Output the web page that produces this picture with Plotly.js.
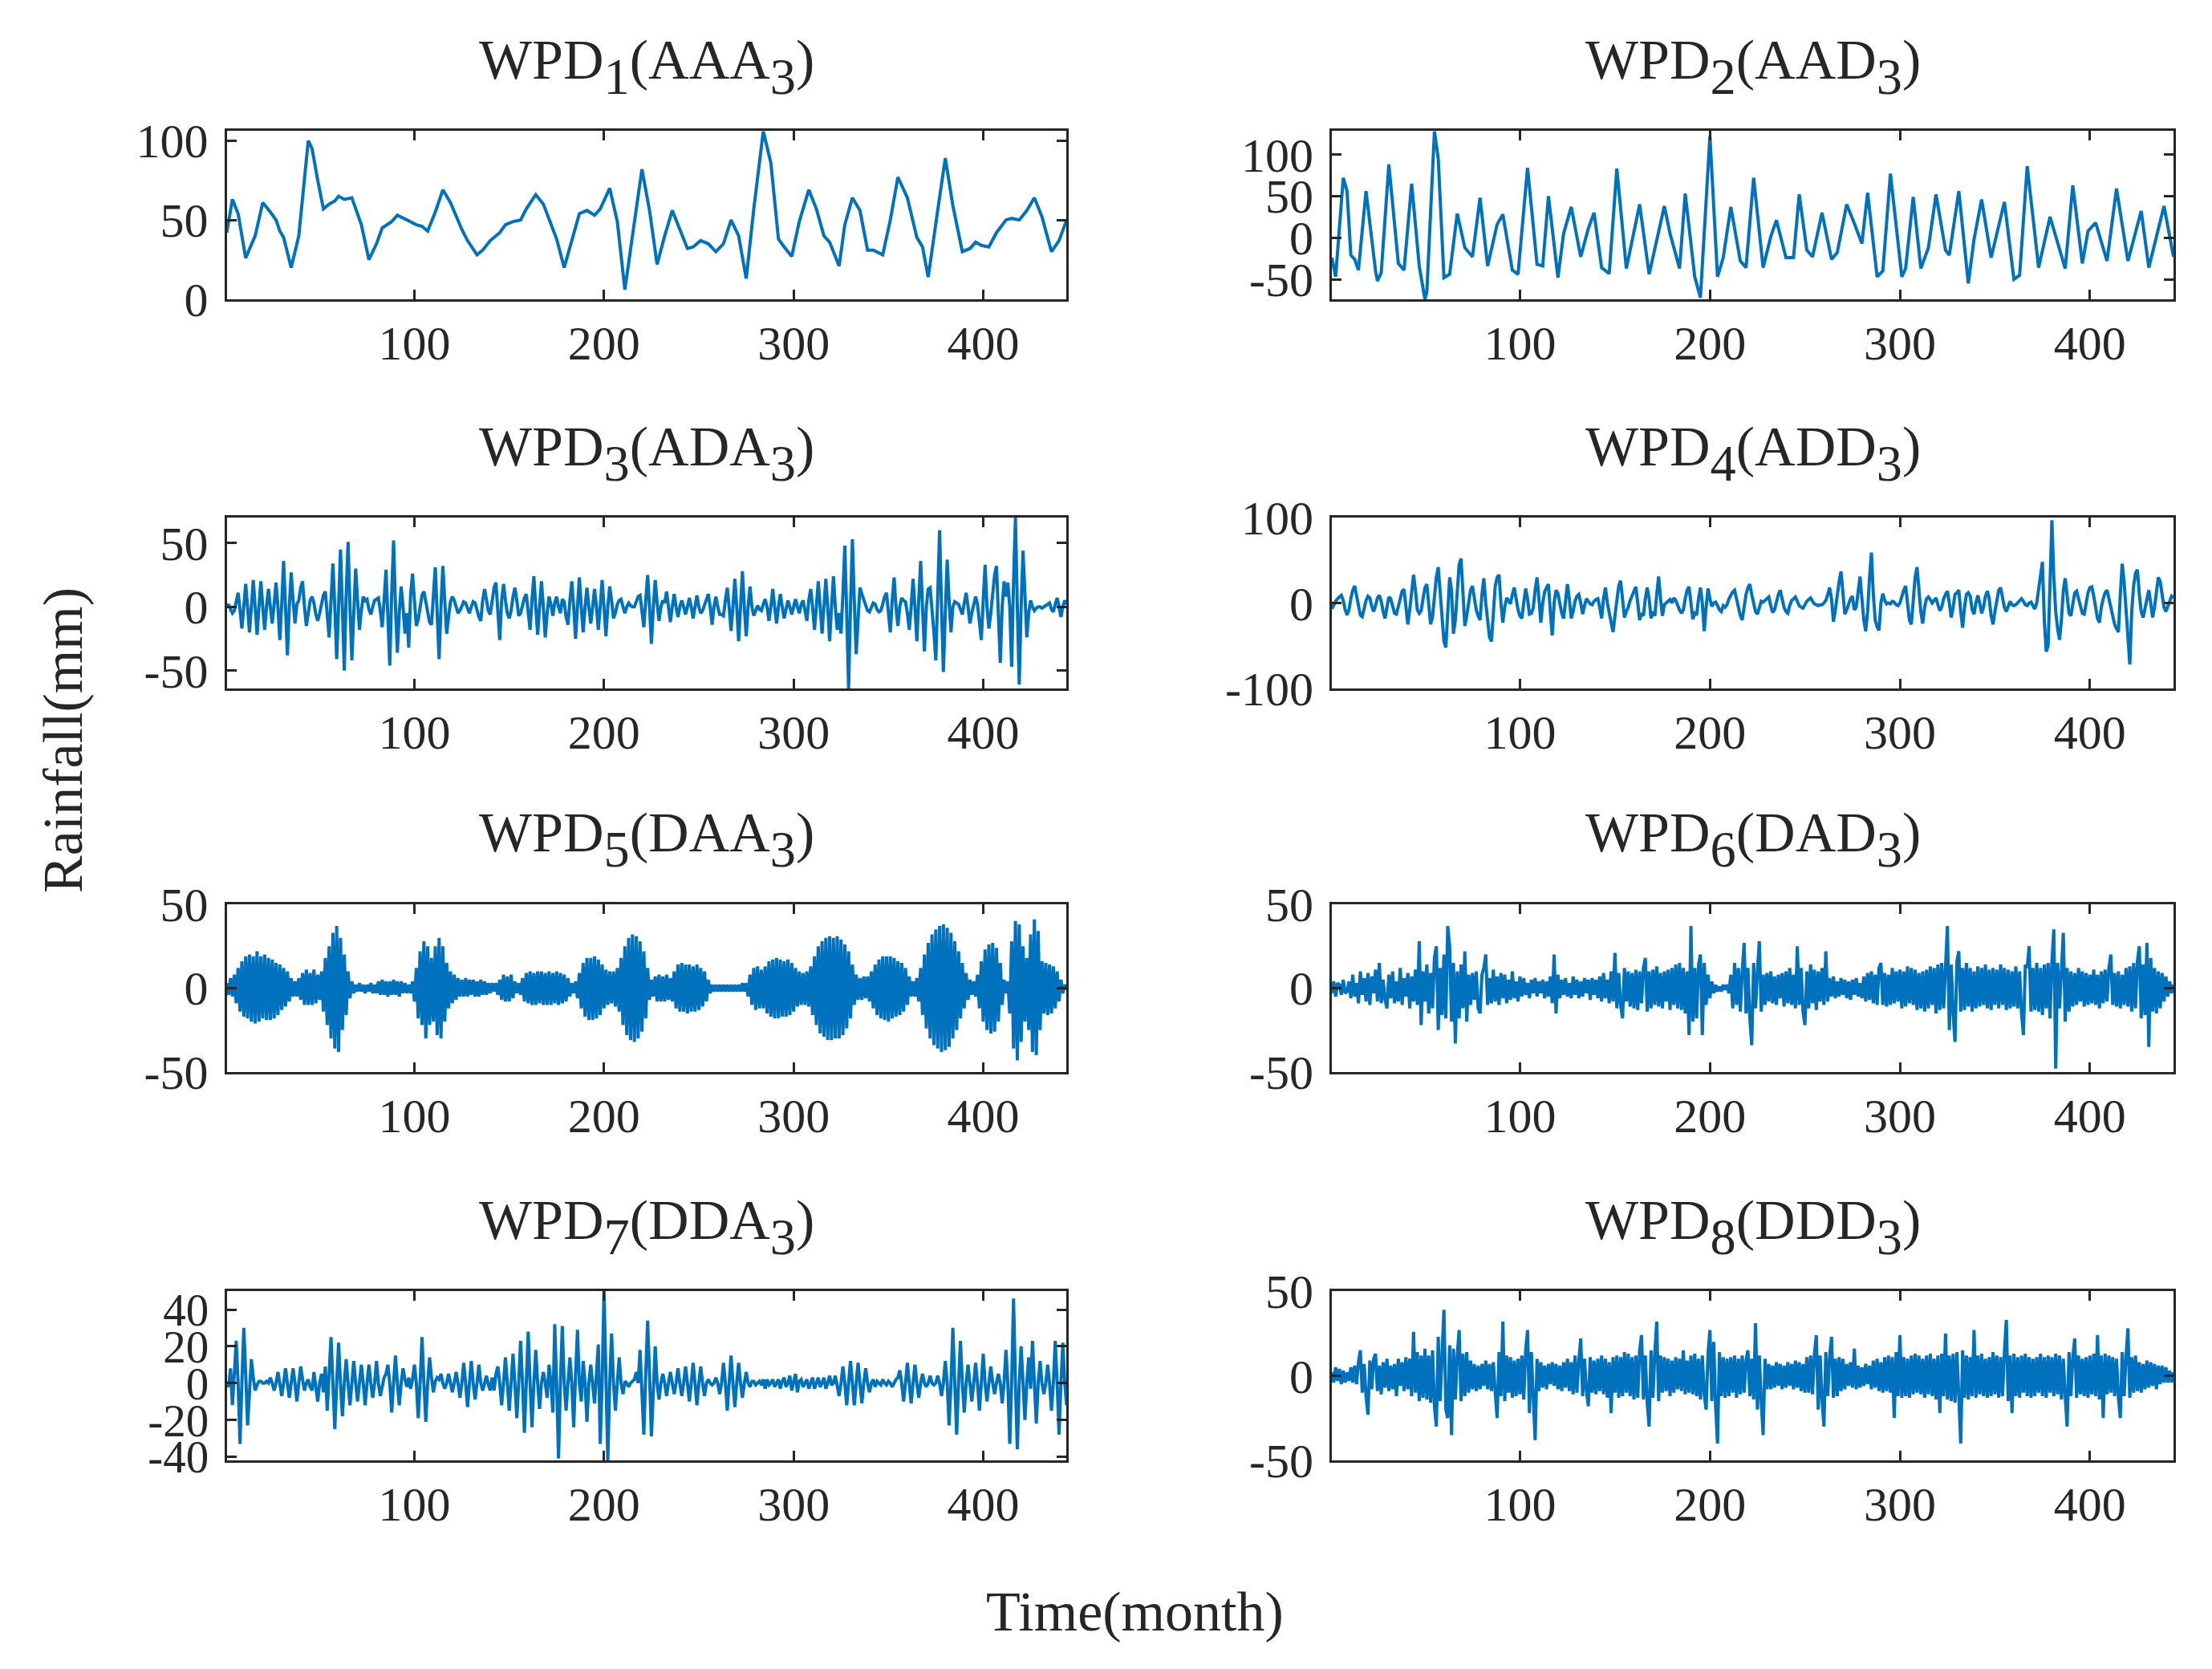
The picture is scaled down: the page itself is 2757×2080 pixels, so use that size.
<!DOCTYPE html>
<html><head><meta charset="utf-8">
<script src="https://cdn.plot.ly/plotly-3.0.1.min.js"></script>
<style>html,body{margin:0;padding:0;background:#fff;} #chart{width:2757px;height:2080px;}</style>
</head><body><div id="chart"></div>
<script>
// ---------------- data ----------------
const panelNames = ['WPD','WPD','WPD','WPD','WPD','WPD','WPD','WPD'];
const panelIndex = ['1','2','3','4','5','6','7','8'];
const panelCodes = ['AAA','AAD','ADA','ADD','DAA','DAD','DDA','DDD'];
const xTicks = [100,200,300,400];
const yTickVals = [[0,50,100],[-50,0,50,100],[-50,0,50],[-100,0,100],[-50,0,50],[-50,0,50],[-40,-20,0,20,40],[-50,0,50]];
const yTickText = [['0','50','100'],['-50','0','50','100'],['-50','0','50'],['-100','0','100'],['-50','0','50'],['-50','0','50'],['-40','-20','0','20','40'],['-50','0','50']];
const yLimits = [[0,106],[-74,128],[-64,70],[-100,100],[-50,50],[-50,50],[-42,50],[-50,50]];
const monthCount = 444;

const wpd1Month = [1,4,7,11,16,20,24,27,29,31,35,39,44,46,49,52,55,58,60,63,67,69,72,76,80,83,88,91,96,101,104,107,111,115,119,125,128,133,136,140,145,148,152,156,159,164,168,171,175,179,183,187,191,195,198,200,203,207,211,215,220,224,228,232,236,240,244,247,251,255,259,263,267,271,275,279,284,288,292,295,299,303,308,312,316,319,324,327,331,335,339,342,347,351,355,360,365,368,371,376,380,384,389,393,396,399,403,407,412,415,419,423,427,431,436,440,444];
const wpd1Value = [42,63,54,26,40,61,55,50,43,39,20,40,100,95,75,57,60,62,65,63,64,57,47,25,35,45,49,53,50,47,46,43,55,69,61,44,37,28,31,37,42,47,49,50,57,66,60,50,38,20,37,54,56,53,57,62,70,49,6,40,82,56,22,40,56,44,32,33,37,35,30,35,50,40,13,57,106,86,38,33,27,49,69,57,40,36,21,47,64,56,31,31,28,50,77,64,39,33,14,56,89,59,30,32,36,34,33,42,50,51,50,56,64,52,30,37,50];

const wpd2Month = [1,3,7,9,11,13,15,19,24,25,27,31,36,39,43,47,50,51,55,57,60,63,67,71,75,79,83,88,91,96,99,104,109,112,115,120,123,127,132,136,139,143,147,151,156,163,168,176,179,184,187,192,195,200,204,207,211,216,219,223,228,232,235,240,244,247,251,254,259,264,267,272,276,280,283,288,291,295,301,303,307,311,315,319,324,326,331,336,339,343,348,355,360,363,367,373,379,387,391,396,399,403,409,414,420,427,431,439,444];
const wpd2Value = [-24,-47,72,56,-21,-26,-39,56,-40,-52,-42,88,-31,-39,65,-34,-74,-65,128,95,-48,-44,29,-12,-23,48,-34,16,28,-39,-44,84,-32,-34,50,-48,5,37,-23,11,30,-36,-43,83,-37,40,-44,38,5,-37,53,-47,-72,122,-47,-24,37,-28,-36,72,-36,1,21,-24,-24,52,-15,-23,30,-26,-18,40,17,-7,54,-47,-40,77,-47,-37,49,-37,-12,52,-15,-21,56,-55,-2,46,-24,43,-50,-45,86,-36,25,-37,63,-31,8,18,-28,59,-28,32,-36,38,-23];

const wpd3 = [0,2,-2,-5,-3,4,11,-2,-17,0, 18,0,-20,0,21,0,-22,0,20,0, -18,0,14,0,-13,2,19,0,-26,2, 36,0,-38,0,27,5,-13,2,5,15,
 20,0,-15,-5,5,8,3,-6,-11,-5, 3,9,12,-5,-24,5,34,0,-41,0, 45,0,-50,10,51,0,-42,-5,30,5, -18,-3,8,5,6,-2,-6,0,5,6,
 7,-3,-16,5,29,-8,-46,10,52,0, -36,-5,16,0,-21,-5,-32,10,26,5, -15,-10,2,9,12,5,-5,-12,-14,10, 31,-5,-41,0,32,5,-21,-8,4,8,
 5,0,-5,-3,1,4,3,-2,-5,0, 4,3,-3,-8,-11,5,14,5,-3,-6, 5,15,19,-5,-26,5,18,5,-5,-9, -3,8,15,5,-7,-5,2,7,10,-5,
 -18,5,24,0,-22,0,20,0,-24,-5, 8,2,-7,3,8,0,-5,6,4,-8, -14,5,20,0,-25,0,23,0,-20,0, 15,0,-13,0,14,0,-18,0,21,0,
 -23,0,16,5,-9,-5,2,5,6,0, -5,0,3,1,0,0,5,8,9,-5, -16,5,25,0,-29,0,21,3,-11,0, 5,3,12,0,-12,0,10,0,-8,0,
 5,0,-6,0,7,0,-9,0,9,0, -5,-3,2,6,10,0,-14,0,8,0, -6,-6,-7,5,15,0,-19,0,22,0, -27,0,28,0,-23,0,16,0,-7,-3,
 1,-2,-3,2,6,0,-11,0,14,0, -13,0,10,0,-9,-2,5,0,-6,0, 6,0,-5,2,5,-3,-11,5,14,0, -18,0,20,0,-21,0,22,0,-27,0,
 24,0,-18,-5,-21,10,48,-5,-64,0, 53,5,-37,-10,15,10,5,0,-3,-4, 0,3,2,-2,-4,-3,2,8,11,-5, -20,5,23,0,-15,0,7,5,4,-5,
 -18,0,22,0,-27,5,36,0,-35,0, 14,15,0,-20,-42,10,60,0,-51,-5, 37,5,-20,0,4,3,2,-2,-6,3, 11,0,-13,-5,3,8,2,-15,-26,5,
 33,0,-17,-5,10,25,32,0,-44,0, 20,8,19,0,-47,20,70,0,-61,0, 44,10,-24,-5,5,0,-3,-1,0,0, -1,0,1,2,3,-2,-4,2,7,0,
 -8,0,5,2];

const wpd4 = [-7,-2,2,5,7,9,3,-8,-14,-8, 5,15,20,8,-5,-14,-16,-6,3,8, 6,-4,-10,-3,6,9,2,-10,-18,-5, 7,5,-5,-12,-13,-3,8,14,16,-5,
 -25,-8,15,33,15,-8,-12,-9,5,18, 22,0,-25,-16,8,30,42,10,-25,-45, -52,-5,30,15,-36,-20,20,45,52,15, -27,-15,3,15,20,5,-8,-15,-20,10,
 29,0,-25,-40,-45,-10,20,30,33,0, -23,-5,6,3,-1,10,18,5,-8,-15, -18,0,17,5,-13,-12,-6,15,30,5, -23,0,13,18,22,-10,-38,0,15,11,
 0,-12,-18,5,22,5,-18,-10,2,8, 10,0,-13,-3,5,2,-1,-2,2,4, 5,-5,-18,5,18,0,-12,-25,-34,-15, 5,20,26,5,-17,-10,-5,3,8,12,
 19,0,-20,-12,-15,5,18,5,-18,-10, -15,10,31,5,-15,-2,0,2,4,0, 6,3,-3,-8,-12,-8,5,15,19,0, -19,-12,-14,5,18,0,-33,-5,17,5,
 -4,0,1,-3,-8,-10,-3,-5,-2,5, 10,13,15,5,-5,-15,-20,-5,10,18, 22,10,0,-10,-13,-5,2,1,3,5, 7,-3,-11,-8,3,10,15,5,-5,-10,
 -12,-3,3,5,7,2,-3,-5,-6,-2, 2,4,6,2,-1,-2,-3,-2,-2,0, 3,10,18,5,-22,-8,10,25,37,10, -13,-8,0,5,8,-8,-5,15,31,5,
 -20,-33,-10,30,59,10,-20,-28,-32,0, 11,3,-1,0,-1,2,1,-2,-3,0, 8,15,20,-5,-20,-25,5,30,42,15, -10,-24,-5,5,7,4,0,3,6,-2,
 -9,-5,5,10,14,0,-17,-5,10,12, 15,-10,-29,-5,10,12,8,-8,-13,0, 9,0,-12,-5,8,14,5,-15,-25,-10, 5,15,18,5,-5,-10,-5,2,-2,-3,
 -2,0,3,5,2,-2,-3,0,1,-3, -7,0,15,30,48,-20,-57,-50,20,97, 30,-10,-30,-43,-20,15,29,5,-12,-15, 0,12,14,5,-5,-12,-13,0,12,18,
 19,8,-5,-18,-23,-5,5,12,15,5, -5,-18,-25,-30,-34,10,46,25,-10,-50, -72,-10,20,35,39,10,-10,-17,-5,8, 15,0,-17,-5,15,30,25,10,-5,-10,
 -5,2,8,6];

const wpd5 = [3,-4,6,-5,8,-9,12,-14,16,-17, 19,-18,20,-20,19,-21,22,-20,19,-18, 20,-19,18,-19,17,-18,15,-16,14,-13, 12,-11,10,-8,6,-5,4,-5,6,-7,
 9,-10,11,-10,9,-10,11,-9,8,-7, 10,-14,18,-22,25,-30,33,-36,37,-38, 30,-25,20,-16,10,-6,4,-3,2,-2, 3,-2,2,-3,2,-2,3,-3,2,-3,
 4,-4,5,-4,4,-5,4,-4,5,-4, 4,-5,4,-3,3,-3,2,-3,4,-8, 12,-18,22,-22,28,-30,25,-22,18,-20, 25,-28,30,-30,25,-20,15,-12,10,-9,
 8,-7,6,-5,5,-5,6,-5,5,-4, 5,-5,4,-5,5,-4,4,-4,3,-3, 3,-2,3,-4,5,-7,8,-8,7,-8, 8,-6,4,-3,3,-4,6,-8,9,-9,
 10,-10,9,-10,10,-9,10,-10,9,-10, 10,-10,9,-9,10,-10,9,-9,8,-8, 6,-5,3,-3,4,-6,9,-12,15,-17, 18,-19,18,-19,19,-18,17,-16,14,-12,
 11,-10,10,-9,10,-11,12,-14,18,-22, 25,-28,30,-31,32,-32,31,-30,28,-26, 22,-18,12,-7,5,-5,7,-8,8,-8, 7,-8,8,-7,6,-8,10,-12,14,-14,
 15,-14,14,-15,14,-14,13,-14,14,-13, 12,-11,10,-8,5,-3,2,-2,2,-2, 2,-2,2,-2,2,-2,2,-2,2,-2, 2,-2,3,-2,3,-5,8,-10,12,-13,
 13,-12,11,-12,13,-15,16,-17,17,-18, 18,-18,17,-17,16,-17,17,-16,15,-14, 12,-11,10,-10,9,-10,10,-11,13,-16, 19,-22,25,-27,28,-29,30,-31,31,-31,
 30,-30,31,-30,29,-28,26,-24,22,-18, 14,-10,8,-7,6,-7,7,-6,7,-8, 10,-12,14,-16,17,-18,19,-19,19,-20, 19,-18,18,-17,16,-16,15,-14,12,-10,
 7,-5,4,-5,6,-8,12,-16,20,-24, 27,-30,32,-34,35,-36,37,-38,38,-37, 36,-35,33,-30,28,-25,22,-18,15,-12, 9,-7,5,-4,4,-5,8,-12,16,-20,
 23,-25,26,-27,27,-26,24,-20,15,-10, 5,-3,4,-15,28,-36,40,-43,38,-32, 25,-20,18,-25,32,-38,41,-40,34,-25, 16,-15,15,-16,14,-15,13,-12,10,-8,
 5,-3,2,-1];

const wpd6 = [-3,4,-5,3,2,-4,5,-3,-2,4, -6,8,-5,3,-9,10,-4,6,-8,9, -10,7,-3,11,-8,15,-9,5,-7,-12, 8,-6,10,-9,4,-8,12,-10,6,-5,
 9,-12,7,-8,11,-10,28,-22,10,-8, 14,-15,9,-12,18,25,-25,12,-16,20, -18,37,25,-20,15,-33,10,-18,14,-12, 22,-20,8,-10,9,-7,10,-12,-15,8,
 12,20,-10,6,-9,11,-8,7,-10,9, -6,8,-9,5,-7,10,-6,4,-8,7, -5,6,-4,3,-6,5,-3,6,-5,4, -3,5,-6,4,-5,7,-9,20,-15,8,
 -6,5,-4,6,-5,3,-6,7,-4,5, -6,4,-5,6,-3,5,-7,6,-4,5, -6,7,-8,9,-6,5,-9,10,-8,21, -12,9,-10,-18,12,-8,10,-11,9,-12,
 11,-13,10,-9,12,18,-14,10,-12,11, -10,13,-11,9,-12,10,-8,11,-13,12, -10,14,-12,15,-13,12,-15,10,-28,37, -20,12,-18,14,20,-28,15,-10,8,-6,
 4,-3,2,-2,1,-2,2,-1,2,-3, 8,-12,15,-10,12,-14,10,27,-15,12, -18,-34,15,-12,10,28,-14,8,-10,9, -8,10,-9,7,-10,8,-6,9,-11,10,
 -9,12,-10,8,-12,25,-10,12,-14,-22, 10,-12,14,-9,11,-13,10,-8,12,-10, 22,-8,6,-5,7,-6,4,-5,6,-4, 5,-6,4,-7,5,-4,6,-5,3,-6,
 7,-8,9,-7,10,-9,8,-10,12,15, -10,9,-11,8,-10,12,-9,10,-8,11, -12,10,-11,13,-9,12,-10,11,-13,9, -12,10,-14,11,-12,13,-10,12,-15,14,
 -13,15,-12,10,37,-25,14,-15,-32,16, 22,-14,12,-13,15,-11,12,-14,10,-12, 13,-11,12,-10,14,-12,11,-13,12,-10, 11,-12,14,-10,12,-13,11,-12,10,-11,
 13,-12,10,-15,-28,14,12,25,-14,12, -13,15,-14,12,-16,14,-12,15,-18,16, 35,-48,15,-12,14,33,-20,12,-14,10, -11,9,-10,12,-8,10,-11,9,-10,8,
 -9,11,-10,8,-12,10,-9,11,-8,12, 20,-10,9,-11,10,-12,8,-10,12,-11, 13,-14,15,-12,16,25,-18,14,-16,27, -35,18,-14,12,-15,10,-12,9,-8,7,
 -5,4,-3,2];

const wpd7 = [0,-2,8,-12,5,23,0,-33,0,30, 5,-23,-5,13,3,-4,-1,1,1,0, 0,1,0,3,0,-4,0,6,0,-7, 0,8,0,-8,0,8,0,-10,0,9,
 2,-4,0,2,-2,-4,6,-4,-10,0, 5,-5,9,-15,2,25,0,-25,0,22, 0,-18,0,13,0,-12,0,12,0,-10, 0,10,0,-12,0,10,0,-8,0,12,
 0,-7,-2,3,5,10,0,-16,0,15, 0,-12,0,8,2,-2,3,-3,2,10, 0,-19,0,25,0,-21,0,14,3,-5, 1,3,2,5,0,-3,0,5,0,-5,
 0,6,0,-8,0,11,0,-13,0,12, 0,-9,0,10,0,-4,0,4,-1,-4, 3,-4,5,9,0,-12,0,14,0,-15, 0,16,0,-19,0,23,0,-27,0,28,
 0,-24,0,18,0,-14,0,6,0,-8, 10,0,-16,32,0,-41,0,31,0,-15, 0,14,0,-24,5,29,0,-10,12,0, -21,0,10,0,-11,5,21,-33,0,50,
 0,-42,0,27,0,-15,0,14,0,-6, 1,0,-2,0,1,2,6,0,18,-5, -28,5,34,5,-29,-5,20,0,-9,0, 5,0,-7,0,6,0,-6,0,8,0,
 -7,0,9,0,-10,0,11,0,-12,0, 9,0,-7,0,2,0,-1,0,3,0, -6,0,11,0,-15,0,15,0,-13,0, 11,0,-8,0,6,0,-2,1,1,-1,
 0,1,-1,2,-3,2,-1,0,2,-2, 0,2,-3,1,3,-2,0,4,-4,0, 5,-5,1,2,-2,0,2,-3,0,3, -3,0,3,-2,0,3,-3,0,4,-1,
 0,4,-2,-7,0,9,0,-12,0,12, 0,-12,0,11,0,-11,0,8,0,-5, 0,2,-2,1,0,-1,2,0,-1,1, 0,-2,0,2,3,7,0,-10,0,11,
 0,-11,0,10,0,-8,0,5,0,-2, 0,4,0,-1,0,4,0,-7,0,12, 0,-23,0,30,0,-28,0,23,0,-16, 0,10,0,-10,0,11,0,-15,0,16,
 0,-10,0,9,0,-6,0,5,0,-11, 0,18,0,-33,0,46,0,-36,0,20, 0,-20,0,14,-3,23,0,-22,0,12, 0,-6,0,10,0,-15,0,23,0,-28,
 0,22,0,-12];

const wpd8 = [2,-4,5,-3,4,-5,3,-4,2,-3, 5,-4,6,-5,8,15,-10,7,-12,-23, 9,-8,10,13,-9,6,-11,8,-7,10, -9,6,-8,7,-12,10,-6,8,-9,11,
 -8,10,-12,26,-10,14,-15,12,-13,16, -14,12,-16,15,-18,-30,23,-15,12,39, -20,-25,18,-35,16,-14,12,27,-15,13, -12,14,-10,9,-8,7,-9,6,-8,7,
 -6,9,-8,7,-9,8,-10,-25,14,-12, 32,-15,12,-10,11,-13,9,-12,10,-11, 12,-14,15,27,-22,14,-12,-38,10,-9, 8,-7,6,-8,7,-5,8,-6,7,-8,
 6,-9,8,-7,10,-9,8,-11,12,-10, 9,22,-12,10,-9,-18,11,-10,9,-11, 10,-9,12,-11,10,-13,8,-22,11,-10, 12,-13,11,-12,14,-10,13,-12,11,-14,
 12,-13,15,24,-14,12,-16,-30,15,-13, 14,32,-15,12,-10,11,-9,10,-12,9, -10,11,-8,10,-9,15,-11,9,-10,12, -11,13,-12,10,-14,12,-11,-20,13,27,
 -15,20,-18,-40,14,-12,11,-13,10,-12, 11,-10,12,-13,10,-11,12,-10,9,15, -12,10,-14,31,-20,12,-15,-35,10,-8, 7,-8,6,-7,8,-6,7,-8,6,-7,
 8,-6,7,-8,9,-7,8,-9,7,-10, 11,-10,12,-11,13,24,-20,12,-14,-30, 14,-12,11,23,-13,10,-12,11,-9,10, -8,7,-6,8,-7,16,-8,6,-7,5,
 -6,7,-5,6,-8,9,-7,10,-9,8, -10,11,-9,12,-10,11,-25,14,-12,24, -13,11,-12,10,-13,12,-11,13,-10,12, -11,10,-13,12,-11,13,-12,10,-14,12,
 -22,13,-12,25,-14,12,-15,13,-16,14, -12,-40,15,-13,12,-14,11,-12,27,-13, 12,-11,13,-12,10,-13,11,-12,14,-11, 12,-13,11,-12,14,33,-15,12,-22,13,
 -12,11,-13,12,-10,13,-12,11,-13,10, -12,11,-10,13,-12,11,-13,12,-10,11, -12,13,-11,12,-14,10,-12,-30,14,-12, 11,22,-13,12,-11,10,-12,11,-13,12,
 -11,13,-12,24,-14,12,-25,13,-11,12, -10,11,-12,10,-13,-25,14,-12,11,28, -13,11,-10,12,-9,8,-10,7,-8,9, -7,8,-6,7,-8,6,-5,6,-4,5,
 -4,3,-4,2];

// ---------------- figure ----------------
const months = [];
for (let i = 1; i <= monthCount; i++) months.push(i);

const series = [
  {x: wpd1Month, y: wpd1Value},
  {x: wpd2Month, y: wpd2Value},
  {x: months.slice(0, wpd3.length), y: wpd3},
  {x: months.slice(0, wpd4.length), y: wpd4},
  {x: months.slice(0, wpd5.length), y: wpd5},
  {x: months.slice(0, wpd6.length), y: wpd6},
  {x: months.slice(0, wpd7.length), y: wpd7},
  {x: months.slice(0, wpd8.length), y: wpd8}
];

const FONT = 'Liberation Serif, Times New Roman, serif';
const INK = '#262626';
const colDomains = [[0.1025, 0.4822], [0.6021, 0.9826]];
const rowDomains = [[0.8207, 0.9214], [0.5875, 0.6899], [0.3577, 0.4582], [0.125, 0.2264]];
const subOpen = '<span style="font-size:92px"><sub>';
const subClose = '</sub></span>';

const traces = [];
const layout = {
  width: 2757, height: 2080,
  margin: {l: 0, r: 0, t: 0, b: 0},
  paper_bgcolor: '#ffffff', plot_bgcolor: '#ffffff',
  showlegend: false,
  font: {family: FONT, color: INK, size: 60},
  annotations: []
};

series.forEach((s, i) => {
  const k = i + 1;
  const sfx = k === 1 ? '' : String(k);
  const row = Math.floor(i / 2), col = i % 2;
  traces.push({
    type: 'scatter', mode: 'lines', x: s.x, y: s.y,
    xaxis: 'x' + sfx, yaxis: 'y' + sfx,
    line: {color: '#0072BD', width: 4}, hoverinfo: 'skip'
  });
  layout['xaxis' + sfx] = {
    domain: colDomains[col], anchor: 'y' + sfx, range: [1, monthCount],
    tickmode: 'array', tickvals: xTicks, ticktext: xTicks.map(String),
    ticks: 'inside', ticklen: 12, tickwidth: 3, tickcolor: INK,
    showline: true, linewidth: 3, linecolor: INK, mirror: 'ticks',
    showgrid: false, zeroline: false,
    tickfont: {family: FONT, size: 60, color: INK}, ticklabelstandoff: 0
  };
  layout['yaxis' + sfx] = {
    domain: rowDomains[row], anchor: 'x' + sfx, range: yLimits[i],
    tickmode: 'array', tickvals: yTickVals[i], ticktext: yTickText[i],
    ticks: 'inside', ticklen: 12, tickwidth: 3, tickcolor: INK,
    showline: true, linewidth: 3, linecolor: INK, mirror: 'ticks',
    showgrid: false, zeroline: false,
    tickfont: {family: FONT, size: (i === 6 ? 57 : 60), color: INK}, ticklabelstandoff: 8
  };
  layout.annotations.push({
    text: panelNames[i] + subOpen + panelIndex[i] + subClose + '(' + panelCodes[i] + subOpen + '3' + subClose + ')',
    xref: 'paper', yref: 'paper',
    x: (colDomains[col][0] + colDomains[col][1]) / 2,
    y: rowDomains[row][1] + 80 / 2080,
    xanchor: 'center', yanchor: 'middle', showarrow: false,
    font: {family: FONT, size: 70, color: INK}
  });
});

layout.annotations.push({
  text: 'Time(month)', xref: 'paper', yref: 'paper', x: 0.5132, y: 0.0346,
  xanchor: 'center', yanchor: 'middle', showarrow: false,
  font: {family: FONT, size: 70, color: INK}
});
layout.annotations.push({
  text: 'Rainfall(mm)', xref: 'paper', yref: 'paper', x: 0.0287, y: 0.5563,
  xanchor: 'center', yanchor: 'middle', showarrow: false, textangle: -90,
  font: {family: FONT, size: 70, color: INK}
});

Plotly.newPlot('chart', traces, layout, {displayModeBar: false, staticPlot: true});
</script></body></html>
